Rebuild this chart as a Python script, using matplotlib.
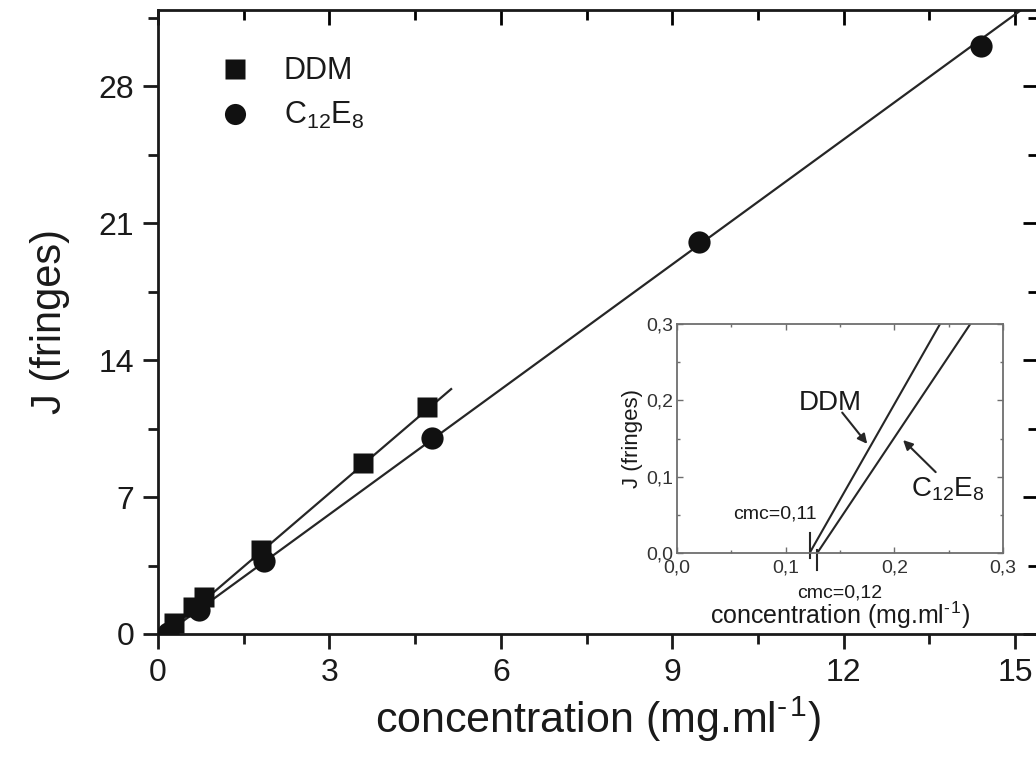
import matplotlib

matplotlib.use("Agg")

import matplotlib.pyplot as plt
from matplotlib.ticker import MultipleLocator, FuncFormatter

plt.rcParams["font.family"] = ["Liberation Sans", "DejaVu Sans"]
plt.rcParams["mathtext.fontset"] = "custom"
plt.rcParams["mathtext.rm"] = "Liberation Sans"
plt.rcParams["mathtext.it"] = "Liberation Sans"

# measured points
ddm_x = [0.28, 0.62, 0.81, 1.81, 3.59, 4.71]
ddm_y = [0.56, 1.40, 1.90, 4.28, 8.72, 11.58]
c12_x = [0.18, 0.72, 1.86, 4.80, 9.47, 14.40]
c12_y = [0.05, 1.25, 3.72, 10.0, 20.06, 30.04]

# linear fits: J = slope * (c - c0)
ddm_c0, ddm_slope = 0.122, 2.50
c12_c0, c12_slope = 0.129, 2.13
ddm_fit_end = 5.13
c12_fit_end = 16.0

# cmc marks in inset (x, y from, y to)
cmc_marks = [(0.122, -0.007, 0.026), (0.129, -0.022, 0.004)]

TXT = "#1a1a1a"
LINE = "#262626"

fig = plt.figure(figsize=(10.36, 7.68), dpi=100)
ax = fig.add_axes([0.1525, 0.1745, 0.8494, 0.8125])

fx = [ddm_c0, ddm_fit_end]
ax.plot(fx, [ddm_slope * (v - ddm_c0) for v in fx], color=LINE, lw=1.6, zorder=2)
fx = [c12_c0, c12_fit_end]
ax.plot(fx, [c12_slope * (v - c12_c0) for v in fx], color=LINE, lw=1.6, zorder=2)

ax.plot(ddm_x, ddm_y, "s", ms=15, color="#111111", mec="none", label="DDM", zorder=3)
ax.plot(c12_x, c12_y, "o", ms=16, color="#111111", mec="none",
        label=r"C$_{12}$E$_8$", zorder=3)

ax.set_xlim(0, 15.4)
ax.set_ylim(0, 31.9)
ax.xaxis.set_major_locator(MultipleLocator(3))
ax.xaxis.set_minor_locator(MultipleLocator(1.5))
ax.yaxis.set_major_locator(MultipleLocator(7))
ax.yaxis.set_minor_locator(MultipleLocator(3.5))
ax.tick_params(which="both", direction="out", width=2, labelsize=23,
               colors=TXT, pad=6)
ax.tick_params(which="major", length=11)
ax.tick_params(which="minor", length=7)
for s in ax.spines.values():
    s.set_linewidth(2)
    s.set_color(TXT)

top = ax.secondary_xaxis("top")
top.xaxis.set_major_locator(MultipleLocator(3))
top.xaxis.set_minor_locator(MultipleLocator(1.5))
top.tick_params(which="both", direction="in", width=2, labeltop=False)
top.tick_params(which="major", length=11)
top.tick_params(which="minor", length=7)
right = ax.secondary_yaxis("right")
right.yaxis.set_major_locator(MultipleLocator(7))
right.yaxis.set_minor_locator(MultipleLocator(3.5))
right.tick_params(which="both", direction="in", width=2, labelright=False)
right.tick_params(which="major", length=11)
right.tick_params(which="minor", length=7)

ax.set_xlabel("concentration (mg.ml$^{\\mathregular{\u2010\u200a1}}$)",
              fontsize=31, color=TXT)
ax.xaxis.set_label_coords(0.5, -0.097)
ax.set_ylabel("J (fringes)", fontsize=30, color=TXT)
ax.yaxis.set_label_coords(-0.10, 0.5)

leg = ax.legend(loc="upper left", bbox_to_anchor=(0.035, 0.95), frameon=False,
                fontsize=22, handletextpad=0.6, labelspacing=0.45,
                borderpad=0, markerscale=0.95)
for t in leg.get_texts():
    t.set_color(TXT)

# inset
ins = fig.add_axes([0.6535, 0.2799, 0.3147, 0.2982])
GR = "#6e6e6e"
for s in ins.spines.values():
    s.set_color(GR)
    s.set_linewidth(1.3)
ix = [ddm_c0, 0.3]
ins.plot(ix, [ddm_slope * (v - ddm_c0) for v in ix], color=LINE, lw=1.5)
ix = [c12_c0, 0.3]
ins.plot(ix, [c12_slope * (v - c12_c0) for v in ix], color=LINE, lw=1.5)
for cx, y0, y1 in cmc_marks:
    ins.plot([cx, cx], [y0, y1], color=LINE, lw=1.5, clip_on=False)

ins.set_xlim(0, 0.3)
ins.set_ylim(0, 0.3)
ins.xaxis.set_major_locator(MultipleLocator(0.1))
ins.xaxis.set_minor_locator(MultipleLocator(0.05))
ins.yaxis.set_major_locator(MultipleLocator(0.1))
ins.yaxis.set_minor_locator(MultipleLocator(0.05))
comma = FuncFormatter(lambda v, p: f"{v:.1f}".replace(".", ","))
ins.xaxis.set_major_formatter(comma)
ins.yaxis.set_major_formatter(comma)
ins.tick_params(which="both", direction="in", top=True, right=True,
                color=GR, width=1, labelsize=14, labelcolor="#333333")
ins.tick_params(axis="x", pad=5)
ins.tick_params(axis="y", pad=3)
ins.tick_params(which="major", length=4)
ins.tick_params(which="minor", length=2.5)
ins.set_xlabel("concentration (mg.ml$^{\\mathregular{\u2010\u200a1}}$)", fontsize=18,
               color=TXT, labelpad=16)
ins.set_ylabel("J (fringes)", fontsize=16, color=TXT, labelpad=2)

ins.text(0.141, 0.197, "DDM", fontsize=20, color=TXT, ha="center", va="center")
ins.annotate("", xy=(0.175, 0.143), xytext=(0.152, 0.184),
             arrowprops=dict(arrowstyle="-|>", color=LINE, lw=1.5,
                             mutation_scale=14, shrinkA=0, shrinkB=0))
ins.text(0.249, 0.083, r"C$_{12}$E$_8$", fontsize=20, color=TXT,
         ha="center", va="center")
ins.annotate("", xy=(0.208, 0.148), xytext=(0.238, 0.106),
             arrowprops=dict(arrowstyle="-|>", color=LINE, lw=1.5,
                             mutation_scale=14, shrinkA=0, shrinkB=0))
ins.text(0.090, 0.051, "cmc=0,11", fontsize=14, color=TXT, ha="center", va="center")
ins.text(0.150, -0.052, "cmc=0,12", fontsize=14, color=TXT, ha="center", va="center")

fig.savefig("out.png", dpi=100)
